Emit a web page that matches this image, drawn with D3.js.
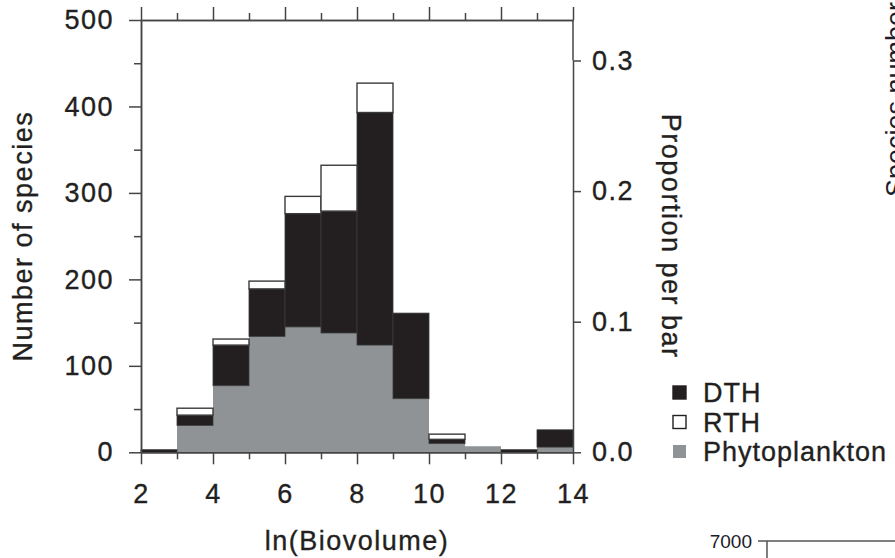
<!DOCTYPE html>
<html>
<head>
<meta charset="utf-8">
<script src="https://cdn.jsdelivr.net/npm/d3@7"></script>
<style>
  body { margin: 0; background: #fff; }
  svg { display: block; }
  text { font-family: "Liberation Sans", Arial, sans-serif; fill: #231f20; }
</style>
</head>
<body>
<svg id="chart"></svg>
<script>
// bins of ln(Biovolume), one unit wide
const binStart = [2, 3, 4, 5, 6, 7, 8, 9, 10, 11, 12, 13];
const phyto = [0, 31, 77, 134, 145, 138, 124, 62, 10, 7, 0, 6];
const dth   = [3, 12, 47, 55, 131, 141, 269, 99, 5, 0, 3, 20];
const rth   = [0, 8, 7, 9, 20, 53, 34, 0, 6, 0, 0, 0];

const leftTicks = [0, 100, 200, 300, 400, 500];
const leftMinor = [50, 150, 250, 350, 450];
const xMajor = [2, 4, 6, 8, 10, 12, 14];
const xMinor = [3, 5, 7, 9, 11, 13];
const rightTicks = [0, 0.1, 0.2, 0.3];
const legendKeys = ["DTH", "RTH", "Phytoplankton"];

function makeChart() {
    let w = 895;
    let h = 558;
    let fs = 27;
    let ls = "1.5px";
    let axisColor = "#454545";

    let svg = d3.select('#chart')
        .attr('width', w)
        .attr('height', h);

    let xScale = d3.scaleLinear().domain([2, 14]).range([141, 573]);
    let yScale = d3.scaleLinear().domain([0, 500]).range([452.3, 20]);
    let pScale = d3.scaleLinear().domain([0, 0.3]).range([452.3, 60.5]);

    let colorScale = d3.scaleOrdinal()
        .domain(["phyto", "dth", "rth"])
        .range(["#8f9396", "#231f20", "#ffffff"]);

    let table = binStart.map((b, i) => ({ bin: b, phyto: phyto[i], dth: dth[i], rth: rth[i] }));
    let stacked = d3.stack().keys(["phyto", "dth", "rth"])(table);

    svg.selectAll('g.layer')
        .data(stacked)
        .enter()
        .append('g')
        .attr('class', 'layer')
        .attr('fill', d => colorScale(d.key))
        .attr('stroke', d => d.key === "phyto" ? "none" : "#3a3a3a")
        .attr('stroke-width', d => d.key === "rth" ? 1.4 : 0.8)
        .selectAll('rect')
        .data(d => d.filter(s => s[1] - s[0] > 0))
        .enter()
        .append('rect')
        .attr('x', d => xScale(d.data.bin))
        .attr('width', d => xScale(d.data.bin + 1) - xScale(d.data.bin))
        .attr('y', d => yScale(d[1]))
        .attr('height', d => yScale(d[0]) - yScale(d[1]));

    function styleText(sel) {
        sel.attr('font-size', fs)
            .attr('letter-spacing', ls)
            .attr('font-family', '"Liberation Sans", Arial, sans-serif')
            .attr('fill', '#231f20')
            .attr('stroke', '#231f20')
            .attr('stroke-width', 0.35);
    }

    function styleAxis(g) {
        g.select('.domain').attr('stroke', axisColor).attr('stroke-width', 1.5);
        g.selectAll('.tick line').attr('stroke', axisColor).attr('stroke-width', 1.5);
        g.selectAll('.tick text').call(styleText);
    }

    // bottom axis
    svg.append('g')
        .attr('transform', `translate(0, ${yScale(0)})`)
        .call(d3.axisBottom(xScale).tickValues(xMinor).tickSize(7).tickSizeOuter(0).tickFormat(''))
        .call(styleAxis);
    svg.append('g')
        .attr('transform', `translate(0, ${yScale(0)})`)
        .call(d3.axisBottom(xScale).tickValues(xMajor).tickSize(12).tickSizeOuter(0).tickPadding(20).tickFormat(d3.format('d')))
        .call(styleAxis);

    // top axis
    svg.append('g')
        .attr('transform', `translate(0, ${yScale(500)})`)
        .call(d3.axisTop(xScale).tickValues(xMinor).tickSize(7).tickSizeOuter(0).tickFormat(''))
        .call(styleAxis);
    svg.append('g')
        .attr('transform', `translate(0, ${yScale(500)})`)
        .call(d3.axisTop(xScale).tickValues(xMajor).tickSize(13).tickSizeOuter(0).tickFormat(''))
        .call(styleAxis);

    // left axis
    svg.append('g')
        .attr('transform', `translate(${xScale(2)}, 0)`)
        .call(d3.axisLeft(yScale).tickValues(leftMinor).tickSize(7).tickSizeOuter(0).tickFormat(''))
        .call(styleAxis);
    svg.append('g')
        .attr('transform', `translate(${xScale(2)}, 0)`)
        .call(d3.axisLeft(yScale).tickValues(leftTicks).tickSize(12).tickSizeOuter(0).tickPadding(15))
        .call(styleAxis);

    // right axis (proportion)
    svg.append('g')
        .attr('transform', `translate(${xScale(14)}, 0)`)
        .call(d3.axisRight(pScale).tickValues(rightTicks).tickSize(8).tickSizeOuter(0).tickPadding(11).tickFormat(d3.format('.1f')))
        .call(styleAxis);
    svg.append('line')
        .attr('x1', xScale(14)).attr('x2', xScale(14))
        .attr('y1', yScale(500)).attr('y2', pScale(0.3))
        .attr('stroke', axisColor).attr('stroke-width', 1.5);

    // axis titles
    svg.append('text')
        .attr('transform', `translate(32, ${(yScale(0) + yScale(500)) / 2}) rotate(-90)`)
        .attr('text-anchor', 'middle')
        .call(styleText)
        .text('Number of species');

    svg.append('text')
        .attr('transform', `translate(662, ${(yScale(0) + yScale(500)) / 2}) rotate(90)`)
        .attr('text-anchor', 'middle')
        .call(styleText)
        .text('Proportion per bar');

    svg.append('text')
        .attr('x', (xScale(2) + xScale(14)) / 2)
        .attr('y', 550)
        .attr('text-anchor', 'middle')
        .call(styleText)
        .text('ln(Biovolume)');

    // legend
    let legendColor = { "DTH": "#231f20", "RTH": "#ffffff", "Phytoplankton": "#8f9396" };
    let legend = svg.selectAll('g.legend')
        .data(legendKeys)
        .enter()
        .append('g')
        .attr('class', 'legend')
        .attr('transform', (d, i) => `translate(673, ${392.5 + i * 29.5})`);
    legend.append('rect')
        .attr('x', 0).attr('y', -6.5)
        .attr('width', 13).attr('height', 13)
        .attr('fill', d => legendColor[d])
        .attr('stroke', d => d === "Phytoplankton" ? "none" : "#231f20")
        .attr('stroke-width', 1.4);
    legend.append('text')
        .attr('x', 30)
        .attr('y', 9.5)
        .call(styleText)
        .attr('letter-spacing', '1px')
        .text(d => d);

    // fragments of the neighbouring panel at the page edge
    svg.append('text')
        .attr('transform', 'translate(905, 197) rotate(-90)')
        .attr('font-size', 27)
        .style('fill', '#1c1c2a')
        .text('Species number');
    svg.append('text')
        .attr('x', 752).attr('y', 548)
        .attr('text-anchor', 'end')
        .attr('font-size', 19)
        .style('fill', '#1c1c2a')
        .text('7000');
    svg.append('path')
        .attr('d', 'M758,541H895M767,541V558')
        .attr('fill', 'none')
        .attr('stroke', '#555')
        .attr('stroke-width', 1.5);
}

window.onload = function() {
    makeChart();
}
</script>
</body>
</html>
